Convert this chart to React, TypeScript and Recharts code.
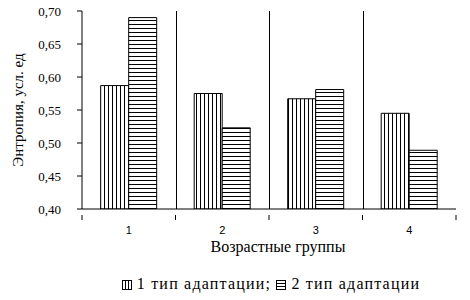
import { BarChart, Bar, XAxis, YAxis, CartesianGrid, Legend } from "recharts";

const groups = ["1", "2", "3", "4"];
const type1 = [0.587, 0.575, 0.567, 0.545];
const type2 = [0.69, 0.523, 0.581, 0.489];
const yTicks = [0.4, 0.45, 0.5, 0.55, 0.6, 0.65, 0.7];
const seriesNames = ["1 тип адаптации;", "2 тип адаптации"];

const data = groups.map((g, i) => ({ g, a: type1[i], b: type2[i] }));

const serif = "Liberation Serif";
const noTick = () => <g />;

// category label plus tick marks on the group boundaries
function GroupTick(props: any) {
  const { x, y, payload, index, width, visibleTicksCount } = props;
  const half = payload.offset > 0 ? payload.offset : width / visibleTicksCount / 2;
  const last = index === visibleTicksCount - 1;
  return (
    <g>
      <line x1={x - half} x2={x - half} y1={y - 10} y2={y - 5} stroke="#000" />
      {last && <line x1={x + half} x2={x + half} y1={y - 10} y2={y - 5} stroke="#000" />}
      <text x={x} y={y + 9} textAnchor="middle" fill="#000" fontSize={11} fontFamily="Liberation Sans">
        {payload.value}
      </text>
    </g>
  );
}

function LegendBox() {
  const sw = (id: string) => (
    <svg width={10} height={10} style={{ verticalAlign: "-1px", marginRight: 5 }}>
      <rect x={0.5} y={0.5} width={9} height={9} fill={`url(#${id})`} stroke="#000" />
    </svg>
  );
  return (
    <div style={{ fontFamily: serif, fontSize: 16, letterSpacing: 1.2, color: "#000", textAlign: "center", paddingLeft: 86, paddingTop: 3 }}>
      {sw("lg-vert")}
      {seriesNames[0]}{" "}
      {sw("lg-hor")}
      {seriesNames[1]}
    </div>
  );
}

export default function App() {
  return (
    <div style={{ position: "absolute", left: 0, top: 0, width: 470, height: 300, background: "#fff", fontFamily: serif }}>
      <svg width={0} height={0} style={{ position: "absolute" }}>
        <defs>
          <pattern id="lg-vert" patternUnits="userSpaceOnUse" width={3} height={3}>
            <rect width={3} height={3} fill="#fff" />
            <line x1={0.5} y1={0} x2={0.5} y2={3} stroke="#000" strokeWidth={1} />
          </pattern>
          <pattern id="lg-hor" patternUnits="userSpaceOnUse" width={3} height={3}>
            <rect width={3} height={3} fill="#fff" />
            <line x1={0} y1={0.5} x2={3} y2={0.5} stroke="#000" strokeWidth={1} />
          </pattern>
        </defs>
      </svg>
      <BarChart
        width={470}
        height={300}
        data={data}
        margin={{ top: 11, right: 14, bottom: 0, left: 0 }}
        barCategoryGap="20%"
        barGap={0}
        style={{ fontFamily: serif }}
      >
        <defs>
          <pattern id="vert" patternUnits="userSpaceOnUse" width={4} height={4}>
            <rect width={4} height={4} fill="#fff" />
            <line x1={0.5} y1={0} x2={0.5} y2={4} stroke="#000" strokeWidth={1} />
          </pattern>
          <pattern id="hor" patternUnits="userSpaceOnUse" width={4} height={4}>
            <rect width={4} height={4} fill="#fff" />
            <line x1={0} y1={0.5} x2={4} y2={0.5} stroke="#000" strokeWidth={1} />
          </pattern>
        </defs>
        <CartesianGrid
          horizontal={false}
          vertical
          stroke="#000"
          verticalCoordinatesGenerator={({ offset }: any) =>
            groups.slice(1).map((_, i) => Math.round(offset.left + ((i + 1) * offset.width) / groups.length) + 0.5)
          }
        />
        <XAxis
          dataKey="g"
          axisLine={{ stroke: "#000" }}
          tickLine={false}
          height={63}
          tickMargin={10}
          tick={<GroupTick />}
          label={{ value: "Возрастные группы", position: "insideBottom", offset: 20, dx: 9, fill: "#000", fontSize: 16, fontFamily: serif }}
        />
        <XAxis xAxisId="top" orientation="top" dataKey="g" height={0} tick={noTick} tickLine={false} axisLine={{ stroke: "#808080" }} />
        <YAxis
          domain={[0.4, 0.7]}
          ticks={yTicks}
          width={82}
          tickSize={5}
          tickMargin={16}
          allowDataOverflow
          axisLine={{ stroke: "#000" }}
          tickLine={{ stroke: "#000" }}
          tick={{ fill: "#000", fontSize: 13, fontFamily: serif }}
          tickFormatter={(v: number) => v.toFixed(2).replace(".", ",")}
          label={{ value: "Энтропия, усл. ед", angle: -90, position: "insideLeft", offset: 18, fill: "#000", fontSize: 15, fontFamily: serif, style: { textAnchor: "middle" } }}
        />
        <YAxis yAxisId="r" orientation="right" width={0} tick={noTick} tickLine={false} axisLine={{ stroke: "#808080" }} />
        <Bar dataKey="a" name={seriesNames[0]} fill="url(#vert)" stroke="#000" strokeWidth={1} isAnimationActive={false} />
        <Bar dataKey="b" name={seriesNames[1]} fill="url(#hor)" stroke="#000" strokeWidth={1} isAnimationActive={false} />
        <Legend verticalAlign="bottom" height={28} content={() => <LegendBox />} />
      </BarChart>
    </div>
  );
}
